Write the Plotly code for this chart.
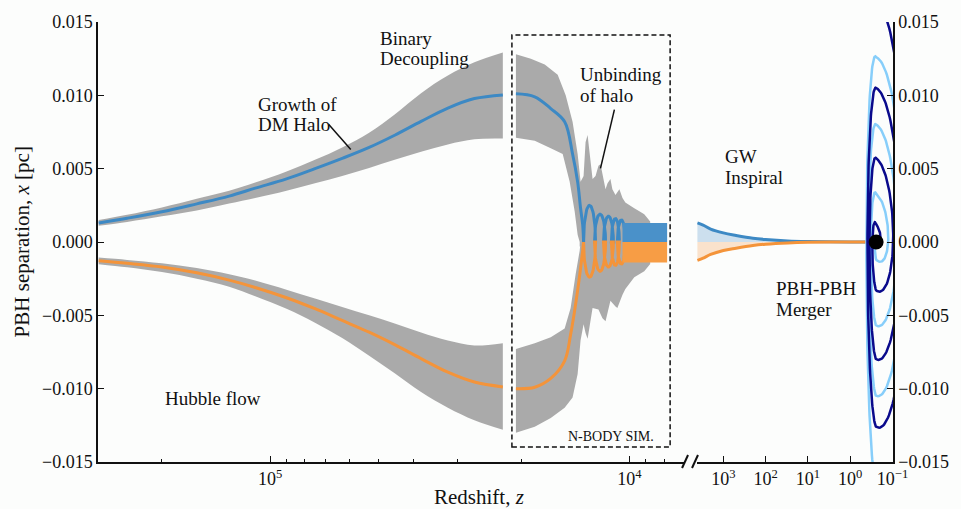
import numpy as np
import plotly.graph_objects as go

# ---------------- data ----------------
# Semi-analytic phase (Hubble flow + growth of DM halo)
hub_z = [3.0e5, 2.5e5, 2.0e5, 1.6e5, 1.3e5, 1.1e5, 9.0e4, 7.5e4, 6.3e4,
         5.3e4, 4.5e4, 3.8e4, 3.2e4, 2.7e4, 2.25e4]
hub_blue = [0.00130, 0.00162, 0.00206, 0.00260, 0.00313, 0.00367, 0.00430, 0.00500,
            0.00570, 0.00645, 0.00728, 0.00822, 0.00913, 0.00978, 0.01003]
hub_blue_hi = [0.00150, 0.00186, 0.00236, 0.00295, 0.00350, 0.00405, 0.00480, 0.00560,
               0.00645, 0.00745, 0.00870, 0.01015, 0.01135, 0.01225, 0.01292]
hub_blue_lo = [0.00110, 0.00137, 0.00175, 0.00215, 0.00262, 0.00300, 0.00350, 0.00400,
               0.00450, 0.00505, 0.00560, 0.00615, 0.00665, 0.00700, 0.00705]
hub_orange = [-0.00128, -0.00145, -0.00170, -0.00210, -0.00260, -0.00310, -0.00380, -0.00455,
              -0.00535, -0.00615, -0.00700, -0.00795, -0.00888, -0.00955, -0.00988]
hub_orange_hi = [-0.00106, -0.00122, -0.00145, -0.00178, -0.00220, -0.00262, -0.00325, -0.00385,
                 -0.00443, -0.00500, -0.00555, -0.00617, -0.00672, -0.00705, -0.00690]
hub_orange_lo = [-0.00151, -0.00172, -0.00205, -0.00250, -0.00305, -0.00370, -0.00455, -0.00550,
                 -0.00655, -0.00775, -0.00895, -0.01023, -0.01130, -0.01215, -0.01280]

# N-body phase: spread of the simulated separations (grey envelope)
nb_top_z = [20690, 18800, 17200, 15830, 15040, 14390, 13930, 13670, 13410, 13240, 13070,
            12910, 12660, 12420, 12190, 12030, 11880, 11650, 11500, 11290, 11150, 10930,
            10660, 10450, 10260, 10000, 9690, 9380, 9090, 8750]
nb_top_y = [0.0128, 0.0125, 0.0121, 0.0114, 0.0100, 0.0082, 0.0060, 0.0041, 0.0045, 0.0068, 0.0073,
            0.0062, 0.0043, 0.0045, 0.0052, 0.0053, 0.0046, 0.0036, 0.0040, 0.0043, 0.0036, 0.0032,
            0.0036, 0.0030, 0.0027, 0.0025, 0.0023, 0.0021, 0.0019, 0.0014]
nb_top_in_z = [20690, 18340, 16550, 15330, 14660, 14200, 13930, 13750]
nb_top_in_y = [0.0071, 0.0069, 0.0064, 0.0060, 0.0041, 0.0021, 0.0005, 0.0]
nb_bot_z = [20690, 18340, 16550, 15140, 14390, 13930, 13670, 13410, 13240, 13070, 12910, 12660,
            12190, 11880, 11650, 11500, 11290, 10930, 10800, 10450, 10260, 9690, 9090, 8750]
nb_bot_y = [-0.0130, -0.0126, -0.0120, -0.0113, -0.0106, -0.0090, -0.0067, -0.0056, -0.0062,
            -0.0066, -0.0058, -0.0045, -0.0046, -0.0052, -0.0054, -0.0048, -0.0040, -0.0044,
            -0.0045, -0.0036, -0.0032, -0.0024, -0.0020, -0.0015]
nb_bot_in_z = [20690, 18340, 16550, 15140, 14570, 14110, 13750, 13670]
nb_bot_in_y = [-0.0073, -0.0069, -0.0065, -0.0059, -0.0045, -0.0022, -0.0006, 0.0]

# N-body phase: median separations
nb_blue_z = [20690, 18340, 16550, 15140, 14390, 13930, 13670, 13490, 13410]
nb_blue_y = [0.0101, 0.0099, 0.0091, 0.0082, 0.0060, 0.0041, 0.0023, 0.0012, 0.0]
nb_orange_z = [20690, 18340, 16550, 15140, 14570, 13930, 13490, 13410]
nb_orange_y = [-0.0100, -0.0099, -0.0093, -0.0081, -0.0063, -0.0033, -0.0006, 0.0]
# orbital loops after unbinding of the halo
loop_z_start = [13410, 12500, 11800, 11220, 10800]
loop_z_end = [12420, 11650, 11080, 10660, 10260]
loop_amp_blue = [0.0025, 0.0019, 0.00176, 0.0016, 0.0015]
loop_amp_orange = [-0.0024, -0.0020, -0.0017, -0.0016, -0.0015]
# fast orbits (unresolved)
band_z = [10450, 7850]
band_blue = 0.0013
band_orange = -0.0014

# GW inspiral (right panel)
gw_z = [4100, 3000, 2000, 1000, 500, 200, 100, 30, 10, 1, 0.244]
gw_blue = [0.00130, 0.00115, 0.00088, 0.00062, 0.00045, 0.00026, 0.00017, 0.00007, 0.00003, 0.0, 0.0]
gw_orange = [-0.00125, -0.00110, -0.00085, -0.00058, -0.00042, -0.00024, -0.00015, -0.00006,
             -0.00002, 0.0, 0.0]
merger_z = 0.244
# apex amplitudes of the merger spiral (one black hole; the other is point-reflected)
spiral_apex = [0.0165, -0.0126, 0.0105, -0.0080, 0.0057, -0.0033, 0.0012]

# tick labels
left_ticks = [1e5, 1e4]
left_ticktext = ["10<sup>5</sup>", "10<sup>4</sup>"]
left_minor = [2e5, 9e4, 8e4, 7e4, 6e4, 5e4, 4e4, 3e4, 2e4, 9e3, 8e3]
right_ticks = [1e3, 1e2, 1e1, 1e0, 1e-1]
right_ticktext = ["10<sup>3</sup>", "10<sup>2</sup>", "10<sup>1</sup>", "10<sup>0</sup>", "10<sup>−1</sup>"]
y_ticks = [-0.015, -0.010, -0.005, 0.0, 0.005, 0.010, 0.015]

# ---------------- styles ----------------
BLUE = "#3d89c4"
ORANGE = "#f4943a"
GRAY = "#aaaaaa"
DARK = "#0a0a8c"
LIGHT = "#87cefa"
BG = "#fcfdfc"
INK = "#111111"
FONT = "Liberation Serif"
# horizontal stretch of the spiral in decades of z (left / right side of the merger point)
SPIRAL_LEFT = 1.9
SPIRAL_RIGHT = 6.0

L, T, PW, PH = 98, 20, 799, 442


def px(x):
    return (x - L) / PW


def py(y):
    return (T + PH - y) / PH


fig = go.Figure()


def poly(xs, ys, color, xaxis="x", yaxis="y"):
    fig.add_trace(go.Scatter(x=xs, y=ys, mode="lines", fill="toself", fillcolor=color,
                             line=dict(width=0, color=color), hoverinfo="skip",
                             xaxis=xaxis, yaxis=yaxis))


def band(xs, y_a, y_b, color):
    fig.add_trace(go.Scatter(x=xs, y=y_a, mode="lines",
                             line=dict(width=0, color=color, shape="spline"), hoverinfo="skip"))
    fig.add_trace(go.Scatter(x=xs, y=y_b, mode="lines", fill="tonexty", fillcolor=color,
                             line=dict(width=0, color=color, shape="spline"), hoverinfo="skip"))


def line(xs, ys, color, width=3, xaxis="x", yaxis="y", opacity=1.0, shape="linear"):
    fig.add_trace(go.Scatter(x=xs, y=ys, mode="lines",
                             line=dict(color=color, width=width, shape=shape),
                             opacity=opacity, hoverinfo="skip", xaxis=xaxis, yaxis=yaxis))


# grey envelopes, semi-analytic phase
band(hub_z, hub_blue_lo, hub_blue_hi, GRAY)
band(hub_z, hub_orange_hi, hub_orange_lo, GRAY)

# grey envelopes, N-body phase
poly(nb_top_z + [nb_top_z[-1], nb_top_in_z[-1]] + nb_top_in_z[::-1],
     nb_top_y + [-0.0003, -0.0003] + nb_top_in_y[::-1], GRAY)
poly(nb_bot_z + [nb_bot_z[-1], nb_bot_in_z[-1]] + nb_bot_in_z[::-1],
     nb_bot_y + [0.0003, 0.0003] + nb_bot_in_y[::-1], GRAY)

# median lines
line(hub_z, hub_blue, BLUE, shape="spline")
line(hub_z, hub_orange, ORANGE, shape="spline")

t = np.linspace(0, np.pi, 40)


def loops(amps):
    xs, ys = [], []
    for zs, ze, a in zip(loop_z_start, loop_z_end, amps):
        lz = np.log10(ze) + (np.log10(zs) - np.log10(ze)) * (1 + np.cos(t)) / 2
        xs.extend((10 ** lz).tolist())
        ys.extend((a * np.sin(t)).tolist())
    return xs, ys


bx, by = loops(loop_amp_blue)
ox, oy = loops(loop_amp_orange)
line(nb_blue_z, nb_blue_y, BLUE, shape="spline")
line(nb_orange_z, nb_orange_y, ORANGE, shape="spline")
line(bx, by, BLUE)
line(ox, oy, ORANGE)

poly([band_z[0], band_z[1], band_z[1], band_z[0]], [0, 0, band_blue, band_blue], "#4a91c9")
poly([band_z[0], band_z[1], band_z[1], band_z[0]], [0, 0, band_orange, band_orange], "#f79d45")

# right panel: GW inspiral
fig.add_trace(go.Scatter(x=gw_z, y=gw_blue, mode="lines", fill="tozeroy",
                         fillcolor="rgba(61,137,196,0.25)",
                         line=dict(color=BLUE, width=3, shape="spline"),
                         hoverinfo="skip", xaxis="x2", yaxis="y2"))
fig.add_trace(go.Scatter(x=gw_z, y=gw_orange, mode="lines", fill="tozeroy",
                         fillcolor="rgba(244,148,58,0.25)",
                         line=dict(color=ORANGE, width=3, shape="spline"),
                         opacity=0.9, hoverinfo="skip", xaxis="x2", yaxis="y2"))

# merger spiral
th_all, r_all = [], []
for i in range(len(spiral_apex)):
    th0 = np.pi / 2 + i * np.pi
    if i < len(spiral_apex) - 1:
        r1 = abs(spiral_apex[i + 1])
        th = np.linspace(th0, th0 + np.pi, 90)
    else:
        r1 = 0.0
        th = np.linspace(th0, th0 + np.pi / 2, 40)
    r = np.linspace(abs(spiral_apex[i]), r1, len(th))
    th_all.append(th)
    r_all.append(r)
th_all = np.concatenate(th_all)
r_all = np.concatenate(r_all)
c = np.cos(th_all)
v = r_all * np.sin(th_all)


def spiral_z(sign):
    cc = sign * c
    stretch = np.where(cc > 0, SPIRAL_LEFT, SPIRAL_RIGHT) * np.sqrt(r_all)
    return merger_z * 10 ** (cc * stretch)


line(spiral_z(-1), -v, LIGHT, width=2.5, xaxis="x2", yaxis="y2")
line(spiral_z(1), v, DARK, width=2.5, xaxis="x2", yaxis="y2")

fig.add_trace(go.Scatter(x=[merger_z], y=[0.0], mode="markers",
                         marker=dict(color="black", size=15), hoverinfo="skip",
                         xaxis="x2", yaxis="y2"))

# ---------------- layout ----------------
axis_common = dict(showline=True, linecolor=INK, linewidth=1.5, showgrid=False, zeroline=False,
                   ticks="inside", ticklen=6, tickwidth=1.2, tickcolor=INK,
                   tickfont=dict(family=FONT, size=18, color=INK))

d1 = px(688)
d2 = px(700)
fig.update_layout(
    width=961, height=509, margin=dict(l=L, r=961 - L - PW, t=T, b=509 - T - PH),
    paper_bgcolor=BG, plot_bgcolor=BG, showlegend=False,
    font=dict(family=FONT, size=18, color=INK),
    xaxis=dict(type="log", domain=[0, d1], range=[5.479, 3.845], anchor="y",
               tickmode="array", tickvals=left_ticks, ticktext=left_ticktext,
               minor=dict(tickmode="array", tickvals=left_minor, ticks="inside", ticklen=3.5,
                          tickwidth=1, tickcolor=INK, showgrid=False),
               **axis_common),
    xaxis2=dict(type="log", domain=[d2, 1], range=[3.623, -1.012], anchor="y2",
                tickmode="array", tickvals=right_ticks, ticktext=right_ticktext,
                **axis_common),
    yaxis=dict(range=[-0.015, 0.015], anchor="x", tickmode="array", tickvals=y_ticks,
               tickformat=".3f", **axis_common),
    yaxis2=dict(range=[-0.015, 0.015], anchor="x2", side="right", tickmode="array",
                tickvals=y_ticks, tickformat=".3f", **axis_common),
)

shapes = []
# N-body box
shapes.append(dict(type="rect", xref="paper", yref="paper", x0=px(514), x1=px(673),
                   y0=py(447), y1=py(33), line=dict(color=INK, width=1.5, dash="5px,3px")))
# pointer lines
shapes.append(dict(type="line", xref="paper", yref="paper", x0=px(330), y0=py(123),
                   x1=px(352), y1=py(148), line=dict(color=INK, width=1.5)))
shapes.append(dict(type="line", xref="paper", yref="paper", x0=px(617), y0=py(108),
                   x1=px(603), y1=py(167), line=dict(color=INK, width=1.5)))
# axis break marks
for x0 in (685, 695):
    shapes.append(dict(type="line", xref="paper", yref="paper", x0=px(x0), y0=py(468),
                       x1=px(x0 + 6), y1=py(455), line=dict(color=INK, width=2)))
fig.update_layout(shapes=shapes)

texts = [
    ("Binary", 379, 37, 19), ("Decoupling", 379, 57, 19),
    ("Growth of", 257, 103, 19), ("DM Halo", 257, 123, 19),
    ("Unbinding", 580, 73, 19), ("of halo", 580, 94, 19),
    ("Hubble flow", 163, 398, 19),
    ("GW", 726, 155, 19), ("Inspiral", 726, 176, 19),
    ("PBH-PBH", 777, 288, 19), ("Merger", 777, 309, 19),
    ("N-BODY SIM.", 568, 436, 14),
]
anns = []
for s, x, y, size in texts:
    anns.append(dict(text=s, xref="paper", yref="paper", x=px(x), y=py(y), xanchor="left",
                     yanchor="middle", showarrow=False,
                     font=dict(family=FONT, size=size, color=INK)))
anns.append(dict(text="Redshift, <i>z</i>", xref="paper", yref="paper", x=px(481), y=py(497),
                 xanchor="center", yanchor="middle", showarrow=False,
                 font=dict(family=FONT, size=21, color=INK)))
anns.append(dict(text="PBH separation, <i>x</i> [pc]", xref="paper", yref="paper", x=px(22),
                 y=py(241), xanchor="center", yanchor="middle", textangle=-90, showarrow=False,
                 font=dict(family=FONT, size=21, color=INK)))
fig.update_layout(annotations=anns)

fig.write_html("out.html", config={"displayModeBar": False})

# remove the browser's default page margin so the figure sits at the window origin
with open("out.html", "r", encoding="utf-8") as f:
    html = f.read()
html = html.replace("<head>", "<head><style>html,body{margin:0;padding:0;overflow:hidden;}</style>", 1)
with open("out.html", "w", encoding="utf-8") as f:
    f.write(html)
